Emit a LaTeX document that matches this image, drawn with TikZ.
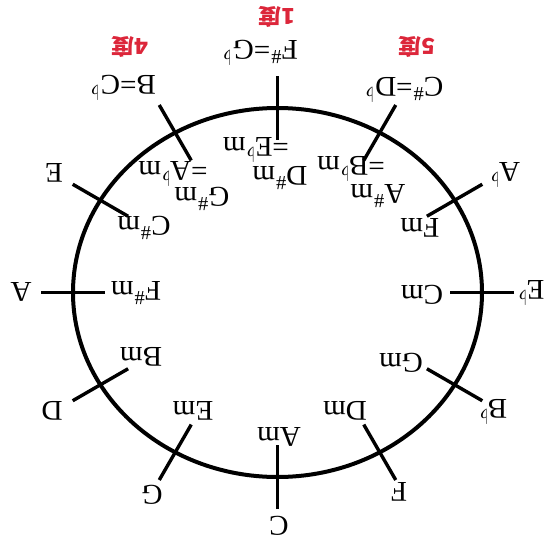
\documentclass[tikz,border=0pt]{standalone}
\usepackage{fontspec}
\setmainfont{Liberation Serif}
\newfontfamily\cjk{Noto Sans CJK SC}
\definecolor{degred}{RGB}{220,38,58}
\newcommand{\mysharp}{\textsuperscript{\#}}
\newcommand{\myflat}{\textsuperscript{$\flat$}}
\newcommand{\myflatb}{\textsuperscript{\kern0.8pt$\flat$}}
\tikzset{
  lbl/.style={rotate=180, xscale=1.02, font=\fontsize{14.3}{15}\selectfont, inner sep=0pt},
  deg/.style={rotate=180, xscale=1.05, font=\cjk\bfseries\fontsize{11}{12}\selectfont, text=degred, inner sep=0pt},
  ring/.style={line width=2pt},
  tickline/.style={line width=1.7pt},
}
\begin{document}
\begin{tikzpicture}[x=0.5pt,y=-0.5pt]
\useasboundingbox (0,0) rectangle (547,541);
\coordinate (ctr) at (277.5,292.5);
\draw[ring] (ctr) ellipse [x radius=102.25pt, y radius=92.25pt];
\foreach \a in {0,30,...,330}{
  \coordinate (to\a) at ({277.5+236.5*cos(\a)},{292.5-216.5*sin(\a)});
  \coordinate (ti\a) at ({277.5+172.5*cos(\a)},{292.5-152.5*sin(\a)});
  \draw[tickline] (to\a) -- (ti\a);
}
% outer labels
\node[lbl] (oFs) at (260,53) {F\mysharp=G\myflatb};
\node[lbl] (oCs) at (404,90) {C\mysharp=D\myflatb};
\node[lbl] (oAb) at (505,175) {A\myflat};
\node[lbl] (oEb) at (531,293) {E\myflat};
\node[lbl] (oBb) at (493,412) {B\myflat};
\node[lbl] (oF) at (399,492) {F};
\node[lbl] (oC) at (279,526) {C};
\node[lbl] (oG) at (152,495) {G};
\node[lbl] (oD) at (52,411) {D};
\node[lbl] (oA) at (21,292) {A};
\node[lbl] (oE) at (54,173) {E};
\node[lbl] (oB) at (123,88) {B=C\myflatb};
% inner labels
\node[lbl] (iDs) at (280,178) {D\mysharp m};
\node[lbl] (iEb) at (256,150) {=E\myflat m};
\node[lbl] (iAs) at (378,196) {A\mysharp m};
\node[lbl] (iBb) at (351,169) {=B\myflat m};
\node[lbl] (iFm) at (420,228) {Fm};
\node[lbl] (iCm) at (422,295) {Cm};
\node[lbl] (iGm) at (401,363) {Gm};
\node[lbl] (iDm) at (345,411) {Dm};
\node[lbl] (iAm) at (279,437) {Am};
\node[lbl] (iEm) at (193,411) {Em};
\node[lbl] (iBm) at (141,357) {Bm};
\node[lbl] (iFs) at (136,293) {F\mysharp m};
\node[lbl] (iCs) at (144,228) {C\mysharp m};
\node[lbl] (iGs) at (202,199) {G\mysharp m};
\node[lbl] (iAb) at (173,174) {=A\myflat m};
% degree labels
\node[deg] (d1) at (277,17) {1度};
\node[deg] (d4) at (130,47) {4度};
\node[deg] (d5) at (417,47) {5度};
\end{tikzpicture}
\end{document}
